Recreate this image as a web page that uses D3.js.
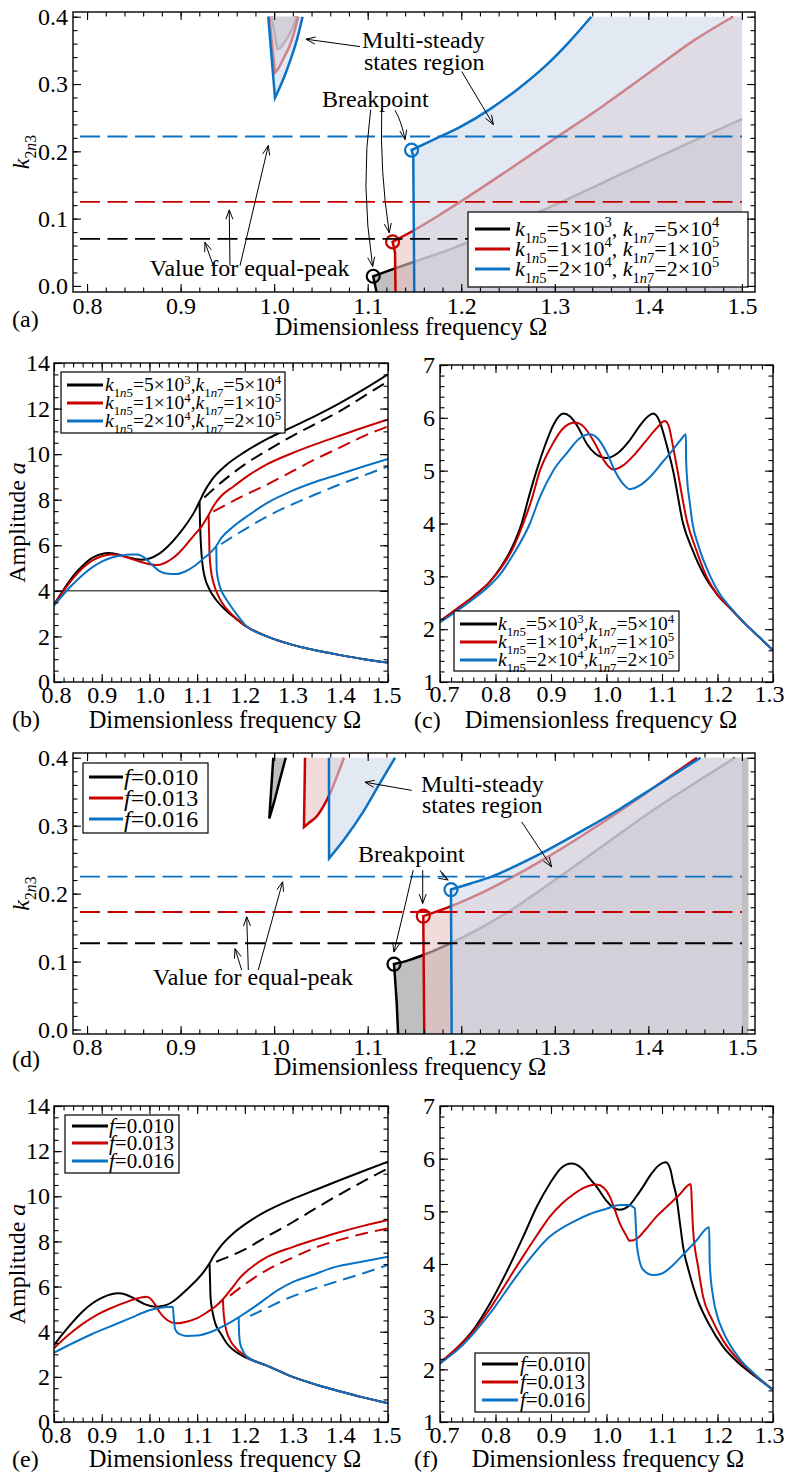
<!DOCTYPE html>
<html>
<head>
<meta charset="utf-8">
<script src="https://cdn.jsdelivr.net/npm/d3@7"></script>
<style>
  body { margin: 0; background: #fff; }
  svg text { font-family: "Liberation Serif", "Times New Roman", "DejaVu Serif", serif; fill: #000; }
</style>
</head>
<body>
<script>
// series colours: k1n5 / f low, mid, high
const colors = ["#000000", "#c80000", "#0a72c4"];
const fillColors = ["#000000", "#e9c3c3", "#d0dae9"];
const fillOpacity = [0.25, 0.6, 0.6];

// ---------- (a) stability boundaries, k2n3 vs Omega ----------
const aEqualPeak = [0.07, 0.125, 0.222];
const aBreak = [[1.1059, 0.0144], [1.1266, 0.0656], [1.1469, 0.2019]];
const aVert = [
  [[1.1096, -0.01], [1.1059, 0.0144]],
  [[1.1298, -0.01], [1.1292, 0.05], [1.1266, 0.0656]],
  [[1.1498, -0.01], [1.1487, 0.193], [1.1469, 0.2019]]
];
const aEdge = [
  [[1.1059, 0.0144], [1.127, 0.025], [1.15, 0.036], [1.193, 0.057], [1.25, 0.09], [1.312, 0.128], [1.38, 0.172], [1.46, 0.223], [1.5, 0.248]],
  [[1.1266, 0.0656], [1.1486, 0.082], [1.175, 0.104], [1.2, 0.126], [1.25, 0.172], [1.3, 0.219], [1.35, 0.266], [1.4, 0.316], [1.45, 0.366], [1.4905, 0.4]],
  [[1.1469, 0.2019], [1.17, 0.217], [1.2, 0.237], [1.23, 0.262], [1.26, 0.292], [1.29, 0.327], [1.315, 0.362], [1.339, 0.4]]
];
const aTongue = [
  [[0.9973, 0.4], [1.0033, 0.352], [1.006, 0.353], [1.01, 0.36], [1.016, 0.373], [1.021, 0.388], [1.024, 0.4]],
  [[0.9948, 0.4], [1.0009, 0.317], [1.004, 0.322], [1.01, 0.338], [1.016, 0.355], [1.021, 0.375], [1.0258, 0.4]],
  [[0.9937, 0.4], [1.0009, 0.2796], [1.006, 0.295], [1.012, 0.315], [1.018, 0.338], [1.024, 0.364], [1.0304, 0.4]]
];
const aRegionEnd = [1.5, 1.5, 1.5];

// ---------- (d) stability boundaries for f ----------
const dEqualPeak = [0.127, 0.173, 0.225];
const dBreak = [[1.1281, 0.0963], [1.1594, 0.1669], [1.189, 0.206]];
const dVert = [
  [[1.1326, -0.01], [1.131, 0.04], [1.129, 0.08], [1.1281, 0.0963]],
  [[1.1605, -0.01], [1.1594, 0.1669]],
  [[1.1898, -0.01], [1.189, 0.206]]
];
const dEdge = [
  [[1.1281, 0.0963], [1.145, 0.1025], [1.16, 0.11], [1.19, 0.128], [1.22, 0.149], [1.25, 0.173], [1.3, 0.22], [1.35, 0.269], [1.4, 0.318], [1.45, 0.363], [1.4925, 0.4]],
  [[1.1594, 0.1669], [1.19, 0.182], [1.22, 0.2], [1.25, 0.221], [1.29, 0.252], [1.33, 0.286], [1.37, 0.322], [1.41, 0.36], [1.452, 0.4]],
  [[1.189, 0.206], [1.21, 0.215], [1.2318, 0.2247], [1.26, 0.242], [1.292, 0.264], [1.33, 0.293], [1.37, 0.325], [1.41, 0.36], [1.4557, 0.4]]
];
const dTongue = [
  [[0.9991, 0.4], [0.9948, 0.3106], [1.0, 0.335], [1.006, 0.367], [1.0124, 0.4]],
  [[1.033, 0.4], [1.0319, 0.298], [1.038, 0.305], [1.045, 0.313], [1.052, 0.327], [1.06, 0.348], [1.067, 0.372], [1.0747, 0.4]],
  [[1.0586, 0.4], [1.0587, 0.2518], [1.075, 0.28], [1.095, 0.32], [1.112, 0.36], [1.1292, 0.4]]
];
const dRegionEnd = [1.507, 1.5, 1.5];

// ---------- (b) amplitude vs Omega, k1n5 / k1n7 ----------
const bLower = [[1.25, 1.97], [1.3, 1.63], [1.35, 1.38], [1.4, 1.18], [1.45, 1.0], [1.5, 0.85]];
const bUpper = [
  [[0.80, 3.40], [0.82, 4.05], [0.84, 4.65], [0.86, 5.10], [0.88, 5.45], [0.90, 5.62], [0.915, 5.66], [0.93, 5.62], [0.95, 5.50], [0.97, 5.40], [0.985, 5.37], [1.00, 5.42], [1.02, 5.62], [1.04, 5.98], [1.06, 6.45], [1.08, 7.0], [1.095, 7.5], [1.105, 7.92], [1.115, 8.35], [1.13, 8.85], [1.16, 9.5], [1.2, 10.1], [1.25, 10.7], [1.3, 11.2], [1.35, 11.7], [1.4, 12.25], [1.45, 12.85], [1.5, 13.5]],
  [[0.80, 3.38], [0.82, 4.0], [0.84, 4.55], [0.86, 5.0], [0.88, 5.33], [0.90, 5.52], [0.92, 5.6], [0.94, 5.55], [0.96, 5.42], [0.98, 5.28], [1.00, 5.17], [1.015, 5.13], [1.03, 5.2], [1.05, 5.45], [1.07, 5.85], [1.09, 6.35], [1.11, 6.85], [1.124, 7.33], [1.135, 7.75], [1.15, 8.15], [1.176, 8.58], [1.21, 9.1], [1.246, 9.55], [1.3, 10.05], [1.35, 10.45], [1.4, 10.82], [1.45, 11.18], [1.5, 11.52]],
  [[0.80, 3.35], [0.82, 3.85], [0.84, 4.3], [0.86, 4.7], [0.88, 5.03], [0.90, 5.28], [0.92, 5.45], [0.94, 5.55], [0.96, 5.6], [0.975, 5.6], [0.99, 5.45], [1.005, 5.15], [1.02, 4.88], [1.04, 4.75], [1.057, 4.74], [1.075, 4.85], [1.095, 5.1], [1.115, 5.45], [1.13, 5.72], [1.14, 5.97], [1.15, 6.3], [1.176, 6.82], [1.21, 7.35], [1.246, 7.85], [1.3, 8.4], [1.35, 8.8], [1.4, 9.13], [1.45, 9.47], [1.5, 9.79]]
];
const bDrop = [
  [[1.105, 7.92], [1.106, 7.0], [1.108, 6.0], [1.111, 5.2], [1.116, 4.6], [1.125, 4.1], [1.14, 3.6], [1.16, 3.15], [1.18, 2.8], [1.2, 2.48]],
  [[1.124, 7.33], [1.125, 6.5], [1.126, 5.6], [1.129, 4.9], [1.135, 4.3], [1.145, 3.75], [1.16, 3.25], [1.18, 2.82], [1.2, 2.48]],
  [[1.14, 5.97], [1.1405, 5.4], [1.141, 4.9], [1.145, 4.4], [1.152, 3.95], [1.162, 3.6], [1.18, 3.05], [1.2, 2.52]]
];
const bDash = [
  [[1.115, 8.1], [1.15, 8.75], [1.2, 9.55], [1.25, 10.2], [1.3, 10.8], [1.35, 11.35], [1.4, 11.9], [1.45, 12.55], [1.5, 13.2]],
  [[1.134, 7.48], [1.19, 8.1], [1.246, 8.66], [1.3, 9.25], [1.35, 9.8], [1.4, 10.3], [1.45, 10.8], [1.5, 11.22]],
  [[1.15, 6.05], [1.2, 6.7], [1.246, 7.26], [1.3, 7.8], [1.35, 8.25], [1.4, 8.68], [1.45, 9.07], [1.5, 9.46]]
];
const bRefLine = 4;

// ---------- (c) amplitude, second mass, k1n5 / k1n7 ----------
const cCurves = [
  [[0.70, 2.15], [0.73, 2.38], [0.76, 2.62], [0.79, 2.9], [0.81, 3.18], [0.83, 3.55], [0.847, 4.0], [0.86, 4.5], [0.874, 5.0], [0.89, 5.5], [0.905, 5.88], [0.922, 6.08], [0.935, 6.02], [0.95, 5.8], [0.965, 5.5], [0.98, 5.32], [1.0, 5.24], [1.02, 5.33], [1.04, 5.55], [1.06, 5.85], [1.075, 6.03], [1.084, 6.08], [1.095, 5.95], [1.108, 5.5], [1.12, 5.0], [1.138, 4.0], [1.155, 3.5], [1.177, 3.0], [1.2, 2.65], [1.2225, 2.4], [1.25, 2.1], [1.275, 1.85], [1.3, 1.6]],
  [[0.70, 2.15], [0.73, 2.38], [0.76, 2.62], [0.79, 2.9], [0.81, 3.16], [0.83, 3.5], [0.85, 4.0], [0.865, 4.45], [0.88, 5.0], [0.9, 5.45], [0.92, 5.78], [0.943, 5.91], [0.96, 5.82], [0.98, 5.5], [0.995, 5.2], [1.012, 5.02], [1.03, 5.1], [1.05, 5.3], [1.07, 5.55], [1.09, 5.8], [1.105, 5.94], [1.112, 5.85], [1.12, 5.45], [1.128, 5.0], [1.146, 4.0], [1.16, 3.55], [1.18, 3.0], [1.2, 2.65], [1.2225, 2.4], [1.25, 2.1], [1.275, 1.85], [1.3, 1.6]],
  [[0.70, 2.13], [0.73, 2.34], [0.76, 2.57], [0.79, 2.83], [0.81, 3.06], [0.83, 3.38], [0.862, 4.0], [0.88, 4.5], [0.904, 5.0], [0.93, 5.35], [0.95, 5.6], [0.97, 5.69], [0.985, 5.6], [1.0, 5.35], [1.015, 5.0], [1.03, 4.75], [1.042, 4.65], [1.06, 4.72], [1.08, 4.9], [1.10, 5.15], [1.12, 5.4], [1.135, 5.6], [1.143, 5.69], [1.1435, 5.2], [1.145, 4.88], [1.15, 4.4], [1.155, 4.0], [1.165, 3.6], [1.187, 3.0], [1.205, 2.65], [1.2225, 2.42], [1.25, 2.1], [1.275, 1.85], [1.3, 1.6]]
];

// ---------- (e) amplitude vs Omega, excitation f ----------
const eLower = [[1.246, 2.5], [1.3, 2.0], [1.35, 1.65], [1.4, 1.35], [1.45, 1.08], [1.5, 0.83]];
const eUpper = [
  [[0.8, 3.41], [0.82, 3.95], [0.84, 4.45], [0.86, 4.9], [0.88, 5.25], [0.90, 5.5], [0.92, 5.66], [0.935, 5.70], [0.95, 5.65], [0.97, 5.45], [0.99, 5.22], [1.012, 5.11], [1.03, 5.15], [1.05, 5.35], [1.07, 5.7], [1.09, 6.1], [1.11, 6.55], [1.126, 7.03], [1.134, 7.33], [1.15, 7.8], [1.176, 8.36], [1.21, 8.9], [1.246, 9.35], [1.3, 9.88], [1.35, 10.3], [1.4, 10.72], [1.45, 11.13], [1.5, 11.53]],
  [[0.8, 3.27], [0.83, 3.85], [0.86, 4.35], [0.89, 4.75], [0.92, 5.05], [0.95, 5.3], [0.97, 5.45], [0.985, 5.53], [0.994, 5.55], [1.003, 5.45], [1.012, 5.2], [1.022, 4.85], [1.035, 4.55], [1.057, 4.37], [1.08, 4.45], [1.10, 4.6], [1.12, 4.85], [1.14, 5.15], [1.154, 5.44], [1.17, 5.85], [1.19, 6.4], [1.22, 6.95], [1.246, 7.3], [1.3, 7.75], [1.35, 8.1], [1.4, 8.42], [1.45, 8.7], [1.5, 8.95]],
  [[0.8, 3.07], [0.84, 3.5], [0.88, 3.9], [0.92, 4.25], [0.96, 4.6], [1.0, 4.95], [1.02, 5.05], [1.049, 5.11], [1.051, 4.6], [1.054, 4.1], [1.062, 3.9], [1.078, 3.81], [1.1, 3.83], [1.13, 4.0], [1.16, 4.3], [1.187, 4.64], [1.22, 5.1], [1.246, 5.5], [1.27, 5.85], [1.3, 6.2], [1.34, 6.5], [1.386, 6.85], [1.45, 7.12], [1.5, 7.32]]
];
const eDrop = [
  [[1.126, 7.03], [1.127, 6.3], [1.128, 5.55], [1.132, 4.9], [1.138, 4.37], [1.15, 3.9], [1.162, 3.49], [1.176, 3.19], [1.2, 2.88]],
  [[1.154, 5.44], [1.155, 5.0], [1.157, 4.52], [1.162, 4.0], [1.169, 3.63], [1.18, 3.3], [1.2, 2.95], [1.22, 2.7]],
  [[1.187, 4.64], [1.188, 3.9], [1.19, 3.49], [1.196, 3.15], [1.204, 2.89], [1.22, 2.7]]
];
const eDash = [
  [[1.14, 7.1], [1.2, 7.65], [1.246, 8.21], [1.3, 8.85], [1.351, 9.5], [1.4, 10.1], [1.45, 10.68], [1.5, 11.24]],
  [[1.169, 5.6], [1.2, 6.1], [1.246, 6.73], [1.3, 7.28], [1.351, 7.75], [1.4, 8.08], [1.45, 8.35], [1.5, 8.58]],
  [[1.211, 4.7], [1.246, 5.05], [1.281, 5.4], [1.33, 5.8], [1.386, 6.18], [1.45, 6.6], [1.5, 6.96]]
];

// ---------- (f) amplitude, second mass, excitation f ----------
const fCurves = [
  [[0.7, 2.11], [0.73, 2.4], [0.76, 2.75], [0.79, 3.25], [0.82, 3.85], [0.85, 4.52], [0.875, 5.1], [0.898, 5.53], [0.918, 5.82], [0.937, 5.91], [0.955, 5.82], [0.97, 5.62], [0.982, 5.47], [1.0, 5.2], [1.012, 5.07], [1.024, 5.03], [1.04, 5.1], [1.055, 5.3], [1.066, 5.47], [1.08, 5.7], [1.095, 5.88], [1.107, 5.93], [1.115, 5.8], [1.12, 5.55], [1.126, 5.28], [1.132, 4.8], [1.138, 4.33], [1.15, 3.8], [1.162, 3.38], [1.185, 2.85], [1.21, 2.43], [1.24, 2.1], [1.27, 1.85], [1.3, 1.61]],
  [[0.7, 2.13], [0.73, 2.4], [0.76, 2.72], [0.79, 3.15], [0.82, 3.65], [0.85, 4.15], [0.875, 4.55], [0.898, 4.9], [0.92, 5.15], [0.94, 5.32], [0.96, 5.45], [0.982, 5.51], [0.995, 5.45], [1.006, 5.28], [1.016, 5.0], [1.024, 4.77], [1.035, 4.55], [1.042, 4.44], [1.055, 4.48], [1.07, 4.65], [1.09, 4.9], [1.11, 5.1], [1.13, 5.3], [1.152, 5.52], [1.154, 5.1], [1.156, 4.65], [1.165, 3.95], [1.174, 3.38], [1.19, 2.95], [1.21, 2.55], [1.24, 2.15], [1.27, 1.87], [1.3, 1.61]],
  [[0.7, 2.11], [0.74, 2.45], [0.79, 3.06], [0.84, 3.8], [0.898, 4.52], [0.94, 4.8], [0.97, 4.95], [1.0, 5.05], [1.024, 5.12], [1.039, 5.12], [1.051, 5.06], [1.053, 4.7], [1.055, 4.33], [1.066, 3.89], [1.084, 3.79], [1.1, 3.82], [1.12, 3.98], [1.14, 4.2], [1.16, 4.42], [1.185, 4.70], [1.186, 4.01], [1.192, 3.38], [1.2, 3.0], [1.21, 2.72], [1.24, 2.2], [1.27, 1.88], [1.3, 1.6]]
];

// legend entries
const kValues = [["5", "3", "5", "4"], ["1", "4", "1", "5"], ["2", "4", "2", "5"]];
const fValues = ["0.010", "0.013", "0.016"];

// annotations, in data units
const aNotes = {
  texts: [
    { t: "Multi-steady", x: 1.094, y: 0.354 },
    { t: "states region", x: 1.096, y: 0.321 },
    { t: "Breakpoint", x: 1.0512, y: 0.266 },
    { t: "Value for equal-peak", x: 0.867, y: 0.015 }
  ],
  arrows: [
    { from: [1.0918, 0.3556], to: [1.034, 0.3666] },
    { from: [1.2005, 0.3186], to: [1.2343, 0.2397] },
    { from: [1.1032, 0.2620], c: [1.092, 0.15], to: [1.1053, 0.029] },
    { from: [1.115, 0.2620], c: [1.113, 0.17], to: [1.123, 0.079] },
    { from: [1.1292, 0.2610], c: [1.136, 0.245], to: [1.140, 0.2175] },
    { from: [0.935, 0.030], to: [0.926, 0.065] },
    { from: [0.9528, 0.030], to: [0.952, 0.113] },
    { from: [0.9635, 0.030], to: [0.9938, 0.2086] }
  ]
};
const dNotes = {
  texts: [
    { t: "Multi-steady", x: 1.157, y: 0.350 },
    { t: "states region", x: 1.158, y: 0.318 },
    { t: "Breakpoint", x: 1.0896, y: 0.246 },
    { t: "Value for equal-peak", x: 0.8705, y: 0.0654 }
  ],
  arrows: [
    { from: [1.147, 0.352], to: [1.0971, 0.364] },
    { from: [1.2646, 0.3056], to: [1.2966, 0.2394] },
    { from: [1.1487, 0.2346], c: [1.138, 0.17], to: [1.128, 0.114] },
    { from: [1.1588, 0.2346], to: [1.1588, 0.1856] },
    { from: [1.1773, 0.2346], c: [1.18, 0.225], to: [1.186, 0.22] },
    { from: [0.9653, 0.0875], to: [0.9582, 0.119] },
    { from: [0.9724, 0.0875], to: [0.9707, 0.166] },
    { from: [0.983, 0.0875], to: [1.0091, 0.2174] }
  ]
};

const W = 785, H = 1477;
const svg = d3.select("body").append("svg").attr("width", W).attr("height", H)
  .attr("font-family", "Liberation Serif, Times New Roman, serif");

let clipCount = 0;
function makePanel(xr, xd, yr, yd) {
  const x = d3.scaleLinear().domain(xd).range(xr);
  const y = d3.scaleLinear().domain(yd).range(yr);
  const g = svg.append("g");
  const clipId = "clip" + (clipCount++);
  g.append("clipPath").attr("id", clipId).append("rect")
    .attr("x", xr[0]).attr("y", yr[1]).attr("width", xr[1] - xr[0]).attr("height", yr[0] - yr[1]);
  const plot = g.append("g").attr("clip-path", `url(#${clipId})`);
  return { x, y, g, plot };
}

// rich text with italics, sub- and superscripts
function rich(text, parts, fs) {
  let cur = 0;
  parts.forEach(p => {
    const target = p.sub ? 0.3 * fs : p.sup ? -0.4 * fs : 0;
    text.append("tspan")
      .attr("dy", target - cur)
      .attr("font-size", (p.sub || p.sup) ? fs * 0.66 : fs)
      .attr("font-style", p.it ? "italic" : null)
      .text(p.t);
    cur = target;
  });
  return text;
}

function kParts(v, sep) {
  return [
    { t: "k", it: 1 }, { t: "1", sub: 1 }, { t: "n", sub: 1, it: 1 }, { t: "5", sub: 1 },
    { t: "=" + v[0] + "×10" }, { t: v[1], sup: 1 }, { t: sep },
    { t: "k", it: 1 }, { t: "1", sub: 1 }, { t: "n", sub: 1, it: 1 }, { t: "7", sub: 1 },
    { t: "=" + v[2] + "×10" }, { t: v[3], sup: 1 }
  ];
}
function fParts(v) { return [{ t: "f", it: 1 }, { t: "=" + v }]; }

function drawAxes(P, s) {
  const [xl, xr] = P.x.range(), [yb, yt] = P.y.range();
  const inX = v => v >= P.x.domain()[0] - 1e-9 && v <= P.x.domain()[1] + 1e-9;
  const inY = v => v >= P.y.domain()[0] - 1e-9 && v <= P.y.domain()[1] + 1e-9;
  const ax = P.g.append("g");
  const xMaj = s.xMajor.filter(inX), xMin = s.xMinor.filter(inX);
  const yMaj = s.yMajor.filter(inY), yMin = s.yMinor.filter(inY);

  ax.append("g").attr("transform", `translate(0,${yb})`)
    .call(d3.axisBottom(P.x).tickValues(xMin).tickSizeInner(-4.5).tickSizeOuter(0).tickFormat(""));
  ax.append("g").attr("transform", `translate(0,${yt})`)
    .call(d3.axisTop(P.x).tickValues(xMin).tickSizeInner(-4.5).tickSizeOuter(0).tickFormat(""));
  ax.append("g").attr("transform", `translate(0,${yt})`)
    .call(d3.axisTop(P.x).tickValues(xMaj).tickSizeInner(-8).tickSizeOuter(0).tickFormat(""));
  ax.append("g").attr("transform", `translate(${xl},0)`)
    .call(d3.axisLeft(P.y).tickValues(yMin).tickSizeInner(-4.5).tickSizeOuter(0).tickFormat(""));
  ax.append("g").attr("transform", `translate(${xr},0)`)
    .call(d3.axisRight(P.y).tickValues(yMin).tickSizeInner(-4.5).tickSizeOuter(0).tickFormat(""));
  ax.append("g").attr("transform", `translate(${xr},0)`)
    .call(d3.axisRight(P.y).tickValues(yMaj).tickSizeInner(-8).tickSizeOuter(0).tickFormat(""));
  const bx = ax.append("g").attr("class", "lab").attr("transform", `translate(0,${yb})`)
    .call(d3.axisBottom(P.x).tickValues(xMaj).tickSizeInner(-8).tickSizeOuter(0).tickPadding(s.xPad).tickFormat(s.xFmt));
  ax.append("g").attr("class", "lab").attr("transform", `translate(${xl},0)`)
    .call(d3.axisLeft(P.y).tickValues(yMaj).tickSizeInner(-8).tickSizeOuter(0).tickPadding(s.yPad).tickFormat(s.yFmt));

  ax.selectAll(".domain").remove();
  ax.selectAll("g").attr("font-family", null).attr("font-size", null);
  ax.selectAll(".tick line").attr("stroke", "#000").attr("stroke-width", 1.1);
  ax.selectAll(".lab text").attr("font-size", s.fs).attr("fill", "#000");
  // nudge the end labels inwards
  const xt = bx.selectAll("text").nodes();
  if (s.endNudge) {
    d3.select(xt[0]).attr("dx", s.endNudge);
    d3.select(xt[xt.length - 1]).attr("dx", -s.endNudge);
  }

  ax.append("rect").attr("x", xl).attr("y", yt).attr("width", xr - xl).attr("height", yb - yt)
    .attr("fill", "none").attr("stroke", "#000").attr("stroke-width", 1.4);

  // axis titles and panel letter
  P.g.append("text").attr("x", s.titleX).attr("y", s.titleY).attr("text-anchor", "middle")
    .attr("font-size", 24.5).text("Dimensionless frequency Ω");
  P.g.append("text").attr("x", s.letterX).attr("y", s.titleY - s.letterUp).attr("font-size", 24).text(s.letter);
  if (s.yTitle) {
    const ty = P.g.append("text").attr("text-anchor", "middle").attr("font-size", 24)
      .attr("transform", `translate(${s.yTitleX},${(yb + yt) / 2}) rotate(-90)`);
    rich(ty, s.yTitle, 24);
  }
}

const smooth = P => d3.line().x(d => P.x(d[0])).y(d => P.y(d[1])).curve(d3.curveMonotoneX);
const straight = P => d3.line().x(d => P.x(d[0])).y(d => P.y(d[1]));

// tongue: straight left flank down to its lowest point, smooth right flank back up
function tonguePath(P, pts) {
  let lowest = 0;
  pts.forEach((p, i) => { if (p[1] < pts[lowest][1]) lowest = i; });
  return straight(P)(pts.slice(0, lowest + 1)) + smooth(P)(pts.slice(lowest)).replace(/^M/, "L");
}

function drawStability(P, vert, edge, tongue, regionEnd, brk, eq, notes) {
  const lo = P.y.domain()[0];
  const sm = smooth(P), st = straight(P);
  [0, 1, 2].forEach(i => {
    const last = edge[i][edge[i].length - 1];
    const tail = [];
    if (last[0] < regionEnd[i]) tail.push([regionEnd[i], last[1]]);
    tail.push([regionEnd[i], lo]);
    const boundary = st(vert[i]) + sm(edge[i]).replace(/^M/, "L");
    P.plot.append("path").attr("d", boundary + st(tail).replace(/^M/, "L") + "Z")
      .attr("fill", fillColors[i]).attr("fill-opacity", fillOpacity[i]);
    const tp = tonguePath(P, tongue[i]);
    P.plot.append("path").attr("d", tp + "Z").attr("fill", fillColors[i]).attr("fill-opacity", fillOpacity[i]);
    P.plot.append("path").attr("d", boundary)
      .attr("fill", "none").attr("stroke", colors[i]).attr("stroke-width", 2.5);
    P.plot.append("path").attr("d", tp)
      .attr("fill", "none").attr("stroke", colors[i]).attr("stroke-width", 2.5);
    P.plot.append("circle").attr("cx", P.x(brk[i][0])).attr("cy", P.y(brk[i][1])).attr("r", 6.5)
      .attr("fill", "none").attr("stroke", colors[i]).attr("stroke-width", 2.2);
  });
  eq.forEach((v, i) => {
    P.plot.append("line").attr("x1", P.x.range()[0]).attr("x2", P.x(1.5))
      .attr("y1", P.y(v)).attr("y2", P.y(v))
      .attr("stroke", colors[i]).attr("stroke-width", 1.8)
      .attr("stroke-dasharray", "20,7.5").attr("stroke-dashoffset", 20.5);
  });
  notes.texts.forEach(t => P.g.append("text").attr("x", P.x(t.x)).attr("y", P.y(t.y)).attr("font-size", 24).text(t.t));
  notes.arrows.forEach(a => {
    const p0 = [P.x(a.from[0]), P.y(a.from[1])], p1 = [P.x(a.to[0]), P.y(a.to[1])];
    const path = d3.path();
    path.moveTo(p0[0], p0[1]);
    let from = p0;
    if (a.c) {
      const c = [P.x(a.c[0]), P.y(a.c[1])];
      path.quadraticCurveTo(c[0], c[1], p1[0], p1[1]);
      from = c;
    } else path.lineTo(p1[0], p1[1]);
    const ang = Math.atan2(p1[1] - from[1], p1[0] - from[0]), L = 10, h = 0.36;
    path.moveTo(p1[0] - L * Math.cos(ang - h), p1[1] - L * Math.sin(ang - h));
    path.lineTo(p1[0], p1[1]);
    path.lineTo(p1[0] - L * Math.cos(ang + h), p1[1] - L * Math.sin(ang + h));
    P.g.append("path").attr("d", path.toString()).attr("fill", "none").attr("stroke", "#000").attr("stroke-width", 1);
  });
}

function drawLegend(P, box, rowY, lineX, textX, fs, parts) {
  P.g.append("rect").attr("x", box[0]).attr("y", box[1]).attr("width", box[2] - box[0]).attr("height", box[3] - box[1])
    .attr("fill", "#fff").attr("stroke", "#000").attr("stroke-width", 1.2);
  rowY.forEach((ry, i) => {
    P.g.append("line").attr("x1", lineX[0]).attr("x2", lineX[1]).attr("y1", ry).attr("y2", ry)
      .attr("stroke", colors[i]).attr("stroke-width", 2.8);
    rich(P.g.append("text").attr("x", textX).attr("y", ry + fs * 0.33).attr("font-size", fs), parts(i), fs);
  });
}

function drawAmplitude(P, upper, drop, lower, dash) {
  const sm = smooth(P);
  [0, 1, 2].forEach(i => {
    if (dash) P.plot.append("path").attr("d", sm(dash[i])).attr("fill", "none")
      .attr("stroke", colors[i]).attr("stroke-width", 2).attr("stroke-dasharray", "13,7");
    if (drop) P.plot.append("path").attr("d", sm(drop[i].concat(lower.filter(p => p[0] > drop[i][drop[i].length - 1][0]))))
      .attr("fill", "none").attr("stroke", colors[i]).attr("stroke-width", 2);
    P.plot.append("path").attr("d", sm(upper[i])).attr("fill", "none").attr("stroke", colors[i]).attr("stroke-width", 2);
  });
}

const fmt1 = d3.format(".1f"), fmt0 = d3.format("d");
const xTicksWide = { xMajor: d3.range(8, 16).map(i => i / 10), xMinor: d3.range(39, 77).map(i => i / 50) };
const xTicksNarrow = { xMajor: d3.range(7, 14).map(i => i / 10), xMinor: d3.range(35, 66).map(i => i / 50) };
const kTitle = [{ t: "k", it: 1 }, { t: "2", sub: 1 }, { t: "n", sub: 1, it: 1 }, { t: "3", sub: 1 }];
const aTitle = [{ t: "Amplitude " }, { t: "a", it: 1 }];

// (a)
const pa = makePanel([73, 755], [0.785, 1.514], [292, 12], [-0.009, 0.407]);
drawStability(pa, aVert, aEdge, aTongue, aRegionEnd, aBreak, aEqualPeak, aNotes);
drawLegend(pa, [468, 212, 748, 287], [229, 249, 269], [475, 510], 515, 22, i => kParts(kValues[i], ", "));
drawAxes(pa, { ...xTicksWide, yMajor: d3.range(0, 5).map(i => i / 10), yMinor: d3.range(0, 21).map(i => i / 50),
  xFmt: fmt1, yFmt: fmt1, fs: 24, xPad: 5, yPad: 5, titleX: 411, titleY: 335, letter: "(a)", letterX: 12, letterUp: 8,
  yTitle: kTitle, yTitleX: 29 });

// (b)
const pb = makePanel([54, 388], [0.8, 1.5], [682, 363], [0, 14]);
pb.plot.append("line").attr("x1", pb.x(0.8)).attr("x2", pb.x(1.5)).attr("y1", pb.y(bRefLine)).attr("y2", pb.y(bRefLine))
  .attr("stroke", "#000").attr("stroke-width", 1);
drawAmplitude(pb, bUpper, bDrop, bLower, bDash);
drawLegend(pb, [61, 372, 285, 433], [385, 403, 421], [67, 103], 105, 19.5, i => kParts(kValues[i], ","));
drawAxes(pb, { ...xTicksWide, yMajor: d3.range(0, 15, 2), yMinor: d3.range(0, 29).map(i => i / 2),
  xFmt: fmt1, yFmt: fmt0, fs: 24, xPad: 4, yPad: 4, titleX: 225, titleY: 728, letter: "(b)", letterX: 12, letterUp: 1,
  yTitle: aTitle, yTitleX: 25, endNudge: 2 });

// (c)
const pc = makePanel([440, 773], [0.7, 1.3], [682, 365], [1, 7]);
drawAmplitude(pc, cCurves, null, null, null);
drawLegend(pc, [454, 611, 679, 671], [624, 642, 660], [460, 497], 498, 19.5, i => kParts(kValues[i], ","));
drawAxes(pc, { ...xTicksNarrow, yMajor: d3.range(1, 8), yMinor: d3.range(5, 36).map(i => i / 5),
  xFmt: fmt1, yFmt: fmt0, fs: 24, xPad: 3, yPad: 5, titleX: 601, titleY: 728, letter: "(c)", letterX: 414, letterUp: 0,
  endNudge: 4 });

// (d)
const pd = makePanel([73, 755], [0.785, 1.514], [1034, 753], [-0.0066, 0.407]);
drawStability(pd, dVert, dEdge, dTongue, dRegionEnd, dBreak, dEqualPeak, dNotes);
drawLegend(pd, [83, 763, 208, 833], [777, 798, 819], [89, 123], 124, 24, i => fParts(fValues[i]));
drawAxes(pd, { ...xTicksWide, yMajor: d3.range(0, 5).map(i => i / 10), yMinor: d3.range(0, 21).map(i => i / 50),
  xFmt: fmt1, yFmt: fmt1, fs: 24, xPad: 4, yPad: 5, titleX: 410, titleY: 1075, letter: "(d)", letterX: 12, letterUp: 8,
  yTitle: kTitle, yTitleX: 29 });

// (e)
const pe = makePanel([54, 388], [0.8, 1.5], [1422, 1106], [0, 14]);
drawAmplitude(pe, eUpper, eDrop, eLower, eDash);
drawLegend(pe, [65, 1115, 179, 1173], [1126, 1143, 1161], [72, 108], 109, 21, i => fParts(fValues[i]));
drawAxes(pe, { ...xTicksWide, yMajor: d3.range(0, 15, 2), yMinor: d3.range(0, 29).map(i => i / 2),
  xFmt: fmt1, yFmt: fmt0, fs: 24, xPad: 4, yPad: 4, titleX: 225, titleY: 1467, letter: "(e)", letterX: 12, letterUp: 0,
  yTitle: aTitle, yTitleX: 25, endNudge: 2 });

// (f)
const pf = makePanel([440, 773], [0.7, 1.3], [1422, 1106], [1, 7]);
drawAmplitude(pf, fCurves, null, null, null);
drawLegend(pf, [475, 1353, 589, 1412], [1364, 1382, 1400], [482, 518], 520, 21, i => fParts(fValues[i]));
drawAxes(pf, { ...xTicksNarrow, yMajor: d3.range(1, 8), yMinor: d3.range(5, 36).map(i => i / 5),
  xFmt: fmt1, yFmt: fmt0, fs: 24, xPad: 4, yPad: 5, titleX: 608, titleY: 1467, letter: "(f)", letterX: 414, letterUp: 0,
  endNudge: 4 });
</script>
</body>
</html>
